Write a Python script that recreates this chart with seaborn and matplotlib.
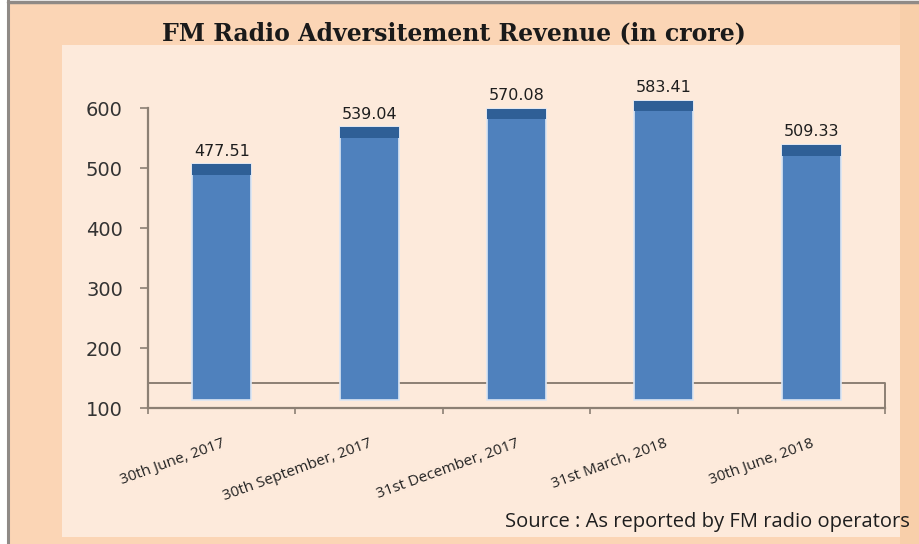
import numpy as np
import matplotlib
matplotlib.use("Agg")
import matplotlib.pyplot as plt
from matplotlib.patches import Rectangle
from matplotlib.lines import Line2D
import seaborn as sns

# data
quarters = ['30th June, 2017', '30th September, 2017', '31st December, 2017',
            '31st March, 2018', '30th June, 2018']
revenue = np.array([477.51, 539.04, 570.08, 583.41, 509.33])
y_ticks = [100, 200, 300, 400, 500, 600]

# 3D-look styling (Excel column chart with floor)
FLOOR = 113   # bar foot sits on the floor
LIFT = 29     # perspective lift of bar tops
CAP = 18      # dark top face
FLOOR_TOP = 142

sns.set_theme(style='white')
plt.rcParams['font.family'] = ['DejaVu Sans']

fig = plt.figure(figsize=(9.2, 5.44), dpi=100)
fig.patch.set_facecolor('white')

# outer frame and inner panel
fig.patches.append(Rectangle((9/920, 0), 1 - 9/920, 1 - 3/544, transform=fig.transFigure,
                             facecolor='#FBD5B5', edgecolor='none', zorder=-3))
fig.patches.append(Rectangle((900/920, 0), 20/920, 1 - 3/544, transform=fig.transFigure,
                             facecolor='#F8CFAA', edgecolor='none', zorder=-2))
fig.patches.append(Rectangle((62/920, 1 - 537/544), (900 - 62)/920, (537 - 45)/544,
                             transform=fig.transFigure, facecolor='#FDEADB',
                             edgecolor='none', zorder=-1))
fig.lines.append(Line2D([8/920, 8/920], [0, 1], transform=fig.transFigure,
                        color='#8F8A86', lw=2.2))
fig.lines.append(Line2D([8/920, 1], [1 - 1.5/544, 1 - 1.5/544], transform=fig.transFigure,
                        color='#8F8A86', lw=2.5))

ax = fig.add_axes([148/920, 1 - 408/544, (885 - 148)/920, 300/544])
ax.set_facecolor('none')
ax.set_zorder(1)

axis_col = '#8C8074'

# floor
ax.axhline(FLOOR_TOP, color=axis_col, lw=1.4, zorder=1)
ax.plot([4.5, 4.5], [100, FLOOR_TOP], color=axis_col, lw=1.4, zorder=1, clip_on=False)

# bars + dark top face
sns.barplot(x=quarters, y=revenue + LIFT - FLOOR, bottom=FLOOR, width=0.4,
            color='#4F81BD', saturation=1, edgecolor='#DCE6F4', linewidth=1.2,
            ax=ax, zorder=2, clip_on=False)
sns.barplot(x=quarters, y=[CAP] * len(revenue), bottom=revenue + LIFT - CAP, width=0.4,
            color='#2F5F96', saturation=1, linewidth=0,
            ax=ax, zorder=3, clip_on=False)

ax.bar_label(ax.containers[1], labels=[f'{v:.2f}' for v in revenue], padding=4,
             fontsize=11.5, color='#1E1E1E', annotation_clip=False)

ax.set_xlim(-0.5, 4.5)
ax.set_ylim(100, 600)
ax.set_yticks(y_ticks)
ax.set_xlabel('')
ax.set_ylabel('')

for s in ['top', 'right']:
    ax.spines[s].set_visible(False)
for s in ['left', 'bottom']:
    ax.spines[s].set_color(axis_col)
    ax.spines[s].set_linewidth(1.6)

ax.tick_params(axis='y', which='major', direction='out', length=6, width=1.2,
               color=axis_col, labelsize=14, labelcolor='#333333', pad=12, left=True)
ax.set_xticks(np.arange(-0.5, 5.0, 1.0), minor=True)
ax.tick_params(axis='x', which='minor', direction='out', length=4, width=1.2,
               color=axis_col, bottom=True)
ax.tick_params(axis='x', which='major', length=0, pad=20)
for lbl in ax.get_xticklabels():
    lbl.set_rotation(20)
    lbl.set_ha('right')
    lbl.set_va('top')
    lbl.set_rotation_mode('anchor')
    lbl.set_family('Open Sans')
    lbl.set_fontsize(11)
    lbl.set_color('#222222')

fig.text(454/920, 1 - 33/544, 'FM Radio Adversitement Revenue (in crore)',
         ha='center', va='center', fontsize=17, fontweight='bold',
         family='DejaVu Serif', color='#1A1A1A')
fig.text(910/920, 1 - 522/544, 'Source : As reported by FM radio operators',
         ha='right', va='center', fontsize=14.5, family='Open Sans', color='#1E1E1E')

fig.savefig('out.png', dpi=100)
